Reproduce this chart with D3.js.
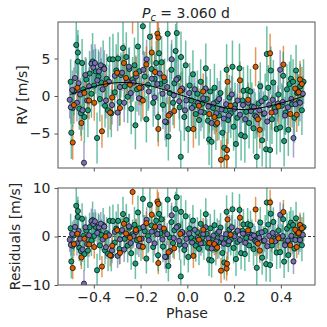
<!DOCTYPE html>
<html><head><meta charset="utf-8">
<script src="https://cdn.jsdelivr.net/npm/d3@7"></script>
<style>html,body{margin:0;padding:0;background:#fff;}svg{display:block;font-family:"DejaVu Sans",sans-serif;}</style>
</head><body><svg id="c" width="327" height="327"></svg>
<script>
// ---- data ----
const xTicks = [-0.4, -0.2, 0.0, 0.2, 0.4];
const rvTicks = [-5, 0, 5];
const resTicks = [-10, 0, 10];
const titlePeriod = "3.060";

// model curve knots (phase, RV)
const modelPhase = [-0.5,-0.45,-0.4,-0.35,-0.3,-0.25,-0.2,-0.15,-0.1,-0.05,0,0.05,0.1,0.15,0.2,0.25,0.3,0.35,0.4,0.45,0.5];
const modelRV = [0.2,0.75,1.25,1.6,1.78,1.78,1.6,1.3,0.85,0.35,-0.15,-0.65,-1.1,-1.5,-1.75,-1.8,-1.65,-1.35,-0.95,-0.5,0.0];

// [phase, RV, err]
const greenData = [
[-0.499,1.9,3.0],[-0.496,-4.9,3.5],[-0.49,-1.6,2.5],[-0.485,0.6,3.2],[-0.475,6.8,3.8],[-0.468,5.8,3.0],[-0.468,4.6,3.5],[-0.462,-1.7,2.8],[-0.455,-2.3,3.0],[-0.45,4.4,3.2],[-0.445,0.9,3.5],[-0.44,-2.8,3.4],[-0.432,2.2,2.8],[-0.425,-1.9,3.6],[-0.418,3.0,3.0],[-0.41,0.3,3.2],[-0.405,4.6,3.8],
[-0.398,1.4,2.8],[-0.392,3.3,3.0],[-0.386,-5.6,3.4],[-0.38,2.6,3.6],[-0.374,-0.4,3.0],[-0.368,1.8,3.2],[-0.36,3.9,3.5],[-0.352,-1.3,2.9],[-0.345,2.3,3.3],[-0.339,-1.9,3.6],[-0.332,4.9,3.0],[-0.325,-2.3,3.2],[-0.318,4.9,3.4],[-0.31,0.5,2.8],[-0.304,3.4,3.5],
[-0.296,5.0,3.5],[-0.29,-0.8,3.2],[-0.284,2.8,3.0],[-0.275,6.4,3.6],[-0.268,1.3,3.1],[-0.261,5.2,3.3],[-0.255,-0.1,3.5],[-0.248,3.6,2.9],[-0.24,-1.7,3.4],[-0.234,2.2,3.0],[-0.226,4.1,3.7],[-0.222,-3.9,3.2],[-0.215,0.9,3.0],[-0.211,6.6,3.5],[-0.205,3.3,3.3],
[-0.198,-0.4,3.0],[-0.19,9.3,3.8],[-0.182,2.6,3.3],[-0.175,-3.1,3.1],[-0.168,1.5,3.5],[-0.16,7.9,3.6],[-0.153,3.6,3.0],[-0.146,-0.9,3.2],[-0.14,2.3,3.4],[-0.133,4.4,3.0],[-0.125,-2.8,3.3],[-0.121,5.7,3.4],[-0.115,1.6,3.0],[-0.11,4.5,3.5],[-0.104,-1.2,3.2],
[-0.097,2.0,3.0],[-0.09,-3.5,3.3],[-0.084,8.3,3.7],[-0.081,-5.4,3.2],[-0.075,0.4,3.1],[-0.068,3.5,3.4],[-0.061,-0.9,3.0],[-0.055,1.7,3.3],[-0.05,6.0,3.6],[-0.045,8.4,3.8],[-0.039,2.4,3.0],[-0.033,-1.5,3.2],[-0.027,5.2,3.4],[-0.028,-8.1,3.5],[-0.02,0.8,3.0],[-0.013,-2.8,3.2],[-0.007,4.1,3.3],
[0.004,-4.4,3.2],[0.01,1.4,3.0],[0.017,-0.6,3.4],[0.024,2.9,3.2],[0.03,-1.3,3.0],[0.036,-2.4,3.3],[0.043,0.3,3.1],[0.05,-3.2,3.4],[0.057,1.9,3.0],[0.064,-1.0,3.2],[0.071,-2.2,3.5],[0.079,3.7,3.3],[0.083,-0.4,3.0],[0.088,-3.3,3.2],[0.093,-5.8,3.4],[0.098,0.6,3.0],
[0.104,-6.1,3.5],[0.11,-1.6,3.0],[0.116,1.1,3.2],[0.122,-3.8,3.4],[0.128,-0.7,3.1],[0.135,-2.6,3.3],[0.142,0.4,3.0],[0.15,-4.9,3.6],[0.158,-6.9,3.5],[0.163,-1.9,3.0],[0.168,3.5,3.4],[0.174,-3.2,3.2],[0.18,-0.2,3.0],[0.186,-2.3,3.3],[0.193,3.9,3.5],[0.198,-4.1,3.2],
[0.204,-1.2,3.0],[0.208,-6.4,3.5],[0.214,-2.9,3.2],[0.223,3.7,3.3],[0.23,-5.2,3.4],[0.236,-0.6,3.0],[0.24,0.7,3.2],[0.246,-5.4,3.5],[0.252,-2.1,3.0],[0.258,0.8,3.3],[0.264,-3.6,3.4],[0.27,0.6,3.0],[0.276,-1.4,3.2],[0.283,-4.3,3.4],[0.29,-2.6,3.1],[0.297,-8.1,3.6],
[0.305,-1.0,3.0],[0.312,1.3,3.2],[0.32,-5.9,3.5],[0.326,-2.4,3.0],[0.333,-0.3,3.3],[0.337,-7.1,3.6],[0.34,5.6,3.7],[0.346,1.1,3.0],[0.354,-7.2,3.5],[0.357,3.4,3.2],[0.362,-3.1,3.3],[0.368,1.8,3.0],[0.375,-1.6,3.2],[0.382,-4.4,3.4],[0.39,0.2,3.0],[0.397,-4.2,3.3],
[0.404,-1.3,3.0],[0.41,2.7,3.2],[0.414,-6.0,3.4],[0.42,-2.2,3.0],[0.426,0.9,3.3],[0.432,-4.5,3.5],[0.437,1.6,3.0],[0.443,2.3,3.2],[0.448,-1.1,3.1],[0.452,1.9,3.0],[0.458,-2.9,3.3],[0.465,3.4,3.4],[0.47,0.4,3.0],[0.476,-0.8,3.2],[0.483,1.3,3.0],[0.49,-1.9,3.3],[0.497,1.9,3.0]
];
const purpleData = [
[-0.503,-0.5,2.5],[-0.498,-1.5,2.2],[-0.492,0.8,2.6],[-0.48,2.4,2.3],[-0.472,-0.9,2.5],[-0.465,1.7,2.4],[-0.458,0.2,2.2],[-0.448,-1.9,2.6],[-0.442,-8.9,2.8],[-0.436,2.8,2.4],[-0.428,-0.6,2.3],[-0.42,1.3,2.5],[-0.41,4.3,2.6],
[-0.402,3.8,2.4],[-0.395,4.4,2.5],[-0.385,2.1,2.3],[-0.378,3.3,2.6],[-0.37,4.1,2.4],[-0.362,0.9,2.2],[-0.355,3.6,2.5],[-0.348,-0.6,2.4],[-0.335,1.9,2.3],[-0.322,-1.2,2.6],[-0.31,2.7,2.4],
[-0.298,-2.2,2.5],[-0.288,1.2,2.3],[-0.279,3.1,2.4],[-0.27,-0.9,2.6],[-0.258,2.1,2.2],[-0.25,3.9,2.5],[-0.242,0.4,2.3],[-0.23,1.8,2.4],[-0.219,2.6,2.6],[-0.207,-0.3,2.3],
[-0.196,1.1,2.4],[-0.188,3.5,2.5],[-0.174,4.9,2.6],[-0.165,0.6,2.3],[-0.152,2.3,2.4],[-0.14,-0.2,2.5],[-0.128,1.6,2.3],[-0.118,3.0,2.6],[-0.106,0.3,2.4],
[-0.095,-3.4,2.5],[-0.086,1.2,2.3],[-0.074,-2.4,2.4],[-0.067,4.9,2.6],[-0.058,0.1,2.3],[-0.046,2.2,2.5],[-0.035,-0.7,2.4],[-0.022,1.0,2.3],[-0.01,-1.9,2.5],[-0.004,-0.6,2.4],
[0.008,0.4,2.3],[0.02,-1.6,2.5],[0.032,0.9,2.4],[0.045,-0.9,2.3],[0.058,-2.1,2.6],[0.068,-0.3,2.4],[0.078,1.0,2.3],[0.09,-1.4,2.5],[0.104,-3.6,2.4],
[0.112,-1.0,2.3],[0.124,-2.3,2.5],[0.136,-0.4,2.4],[0.146,-1.8,2.3],[0.156,-3.0,2.6],[0.166,-1.1,2.4],[0.178,-2.6,2.3],[0.19,0.2,2.5],
[0.202,-1.7,2.4],[0.215,-0.6,2.3],[0.225,-2.5,2.5],[0.238,-1.2,2.4],[0.248,-3.1,2.6],[0.26,-0.9,2.3],[0.272,-2.0,2.4],[0.285,-1.5,2.5],[0.296,-2.8,2.3],
[0.308,-1.9,2.4],[0.318,-0.7,2.5],[0.33,-2.3,2.3],[0.342,-3.4,2.6],[0.35,-1.2,2.4],[0.365,-0.5,2.3],[0.376,-2.1,2.5],[0.387,-1.0,2.4],[0.397,3.5,2.6],
[0.408,-0.8,2.3],[0.418,-2.6,2.5],[0.43,-1.5,2.4],[0.445,-0.4,2.3],[0.454,-5.6,2.6],[0.462,-1.1,2.4],[0.472,0.6,2.3],[0.482,-0.9,2.5],[0.494,0.3,2.4]
];
const orangeData = [
[-0.49,-6.2,2.3],[-0.485,-1.2,2.5],[-0.47,1.1,2.2],[-0.453,-3.6,2.4],[-0.44,0.4,2.3],[-0.42,-0.6,2.5],[-0.398,-0.9,2.4],[-0.365,-4.7,2.2],[-0.35,1.6,2.6],[-0.33,-2.2,2.3],[-0.321,-0.2,2.4],[-0.3,3.1,2.5],[-0.288,-1.6,2.3],[-0.271,4.4,2.6],[-0.262,2.4,2.3],[-0.245,1.5,2.5],[-0.234,10.9,2.6],[-0.22,3.0,2.4],[-0.205,1.1,2.3],[-0.19,-0.6,2.5],[-0.175,4.2,2.4],[-0.152,5.8,2.6],[-0.138,3.2,2.3],[-0.128,8.3,2.5],[-0.124,7.8,2.4],[-0.124,-4.4,2.3],[-0.1,2.5,2.4],[-0.08,-2.6,2.5],[-0.056,-2.0,2.3],[-0.03,0.7,2.4],[0.026,-4.4,2.5],[0.05,-1.3,2.3],[0.068,0.6,2.4],[0.094,-2.4,2.5],[0.116,-2.8,2.3],[0.128,-3.6,2.4],[0.144,-8.5,2.6],[0.168,-8.2,2.5],[0.17,-7.2,2.4],[0.172,1.9,2.3],[0.185,-1.3,2.4],[0.225,2.1,2.5],[0.26,-0.5,2.3],[0.292,3.9,2.6],[0.302,-3.1,2.4],[0.31,-4.5,2.5],[0.354,5.7,2.6],[0.36,-2.2,2.3],[0.39,-1.4,2.4],[0.411,4.2,2.5],[0.44,-2.4,2.3],[0.461,1.0,2.4],[0.468,-2.5,2.3],[0.476,0.5,2.4],[0.482,2.2,2.5],[0.49,1.6,2.3]
];
const barOrder = ["purple","orange","green"];
const markerOrder = ["green","purple","orange"];
const seriesColors = {orange:"#d95f02", green:"#1b9e77", purple:"#7570b3"};

// ---- layout ----
const svg = d3.select("#c");
const L = 58, R = 315;
const top1 = 22, bot1 = 168, top2 = 188, bot2 = 285;
const x = d3.scaleLinear().domain([-0.553, 0.546]).range([L, R]);
const y1 = d3.scaleLinear().domain([-9.6, 9.87]).range([bot1, top1]);
const y2 = d3.scaleLinear().domain([-10, 10]).range([bot2, top2]);
const model = d3.scaleLinear().domain(modelPhase).range(modelRV);

const sets = {orange: orangeData, green: greenData, purple: purpleData};

const defs = svg.append("defs");
defs.append("clipPath").attr("id","cp1").append("rect").attr("x",L).attr("y",top1).attr("width",R-L).attr("height",bot1-top1);
defs.append("clipPath").attr("id","cp2").append("rect").attr("x",L).attr("y",top2).attr("width",R-L).attr("height",bot2-top2);

function panel(yScale, clip, valFn, extra) {
  const g = svg.append("g").attr("clip-path", `url(#${clip})`);
  barOrder.forEach(name => {
    g.append("g").selectAll("line").data(sets[name]).join("line")
      .attr("x1", d => x(d[0])).attr("x2", d => x(d[0]))
      .attr("y1", d => yScale(valFn(d) - d[2])).attr("y2", d => yScale(valFn(d) + d[2]))
      .attr("stroke", seriesColors[name]).attr("stroke-width", 1.5).attr("stroke-opacity", 0.65);
  });
  if (extra) extra(g);
  markerOrder.forEach(name => {
    g.append("g").selectAll("circle").data(sets[name]).join("circle")
      .attr("cx", d => x(d[0])).attr("cy", d => yScale(valFn(d)))
      .attr("r", 2.6).attr("fill", seriesColors[name]).attr("stroke", "#000").attr("stroke-width", 0.7);
  });
  return g;
}

// top panel
const g1 = panel(y1, "cp1", d => d[1]);
g1.append("path").datum(modelPhase)
  .attr("d", d3.line().x(p => x(p)).y((p, i) => y1(modelRV[i])).curve(d3.curveCatmullRom))
  .attr("fill","none").attr("stroke","#000").attr("stroke-width",1);

// bottom panel (residuals = RV - model)
svg.append("line").attr("x1",L).attr("x2",R).attr("y1",y2(0)).attr("y2",y2(0))
  .attr("stroke","#000").attr("stroke-width",0.8).attr("stroke-dasharray","3,2");
panel(y2, "cp2", d => d[1] - model(d[0]));

// frames
[[top1,bot1],[top2,bot2]].forEach(([t,b]) => {
  svg.append("rect").attr("x",L).attr("y",t).attr("width",R-L).attr("height",b-t)
    .attr("fill","none").attr("stroke","#555").attr("stroke-width",1);
});

// axes
function styleAxis(g, showLabels) {
  g.select(".domain").remove();
  g.selectAll(".tick line").attr("stroke","#555").attr("stroke-width",1);
  g.selectAll(".tick text").attr("fill","#262626").attr("font-size","14px").attr("font-family","DejaVu Sans");
  if (!showLabels) g.selectAll(".tick text").remove();
}
const fmtX = d => (d < 0 ? "\u2212" : "") + Math.abs(d).toFixed(1);
const fmtY = d => (d < 0 ? "\u2212" : "") + Math.abs(d);
svg.append("g").attr("transform",`translate(0,${bot1})`)
  .call(d3.axisBottom(x).tickValues(xTicks).tickSize(3.5).tickFormat(fmtX)).call(g => styleAxis(g,false));
svg.append("g").attr("transform",`translate(0,${bot2})`)
  .call(d3.axisBottom(x).tickValues(xTicks).tickSize(3.5).tickPadding(4).tickFormat(fmtX)).call(g => styleAxis(g,true));
svg.append("g").attr("transform",`translate(${L},0)`)
  .call(d3.axisLeft(y1).tickValues(rvTicks).tickSize(3.5).tickPadding(4).tickFormat(fmtY)).call(g => styleAxis(g,true));
svg.append("g").attr("transform",`translate(${L},0)`)
  .call(d3.axisLeft(y2).tickValues(resTicks).tickSize(3.5).tickPadding(4).tickFormat(fmtY)).call(g => styleAxis(g,true));

// labels
svg.append("text").attr("x",187).attr("y",318).attr("text-anchor","middle").attr("fill","#262626").attr("font-size","14px").text("Phase");
svg.append("text").attr("transform",`translate(26.5,${(top1+bot1)/2}) rotate(-90)`).attr("text-anchor","middle").attr("fill","#262626").attr("font-size","14px").text("RV [m/s]");
svg.append("text").attr("transform",`translate(19.5,${(top2+bot2)/2}) rotate(-90)`).attr("text-anchor","middle").attr("fill","#262626").attr("font-size","14px").text("Residuals [m/s]");
const t = svg.append("text").attr("x",186).attr("y",18).attr("text-anchor","middle").attr("fill","#262626").attr("font-size","14px");
t.append("tspan").attr("font-style","italic").text("P");
t.append("tspan").attr("font-style","italic").attr("font-size","9.8px").attr("dy",2.5).text("c");
t.append("tspan").attr("dy",-2.5).text(" = " + titlePeriod + " d");
</script></body></html>
